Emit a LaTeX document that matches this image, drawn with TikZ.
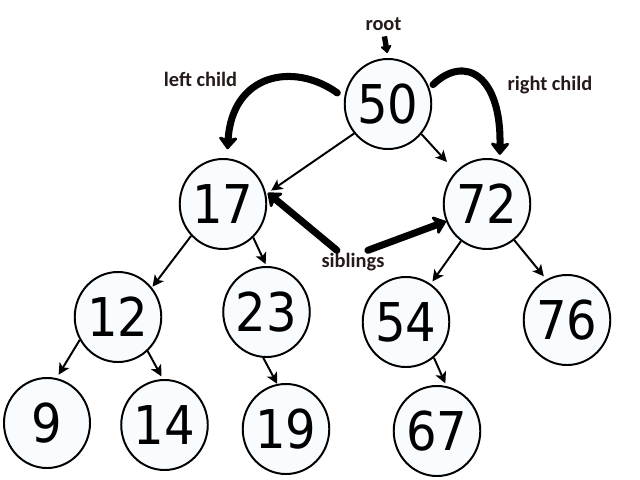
\documentclass[tikz,border=0pt]{standalone}
\usepackage{fontspec}
\setmainfont{Carlito}
\newfontfamily\numfont{DejaVu Sans}[FakeStretch=0.9]
\usetikzlibrary{arrows.meta,shapes.geometric}
\definecolor{keyfill}{RGB}{248,252,255}
\definecolor{labelink}{RGB}{38,26,26}
\begin{document}
\begin{tikzpicture}[x=0.025cm,y=-0.025cm,
  key/.style={ellipse, draw, line width=1.4pt, fill=keyfill,
    minimum width=2.15cm, minimum height=2.25cm, inner sep=0pt,
    font=\numfont\fontsize{38}{38}\selectfont},
  lbl/.style={font=\bfseries\fontsize{14.5}{14.5}\selectfont, text=labelink, inner sep=0pt},
  treelink/.style={line width=1.4pt, -{Stealth[length=8pt,width=8pt,inset=2pt]}},
  pointer/.style={line width=5pt, line cap=round,
    -{Stealth[length=10pt,width=16pt,inset=2.5pt,round]}},
  rootptr/.style={line width=3.8pt,
    -{Stealth[length=6pt,width=9pt,inset=1pt,round]}}]
\useasboundingbox (0,0) rectangle (640,480);

% keys of the tree
\node[key] (n50) at (388,104) {50};
\node[key] (n17) at (223,204) {17};
\node[key] (n72) at (487,204) {72};
\node[key] (n12) at (118,317) {12};
\node[key] (n23) at (266.5,312) {23};
\node[key] (n54) at (406,322) {54};
\node[key] (n76) at (567,320) {76};
\node[key] (n9)  at (47,423) {9};
\node[key] (n14) at (164.5,425) {14};
\node[key] (n19) at (286,429) {19};
\node[key] (n67) at (437,431) {67};

% parent-to-child links
\draw[treelink, shorten >=4.3pt] (n50.221) -- (n17.13);
\draw[treelink, shorten >=9.2pt] (n50.318) -- (n72.134);
\draw[treelink, shorten >=0.7pt] (n17.225) -- (n12.41);
\draw[treelink, shorten >=1.4pt] (n17.312) -- (n23.90);
\draw[treelink, shorten >=2.1pt] (n72.235) -- (n54.57);
\draw[treelink, shorten >=2.8pt] (n72.307) -- (n76.117);
\draw[treelink, shorten >=2.8pt] (n12.211) -- (n9.78);
\draw[treelink, shorten >=2.1pt] (n12.311) -- (n14.92);
\draw[treelink] (n23.266) -- (n19.101);
\draw[treelink, shorten >=2.1pt] (n54.308) -- (n67.78);

% annotations
\node[lbl, anchor=base] (rootlbl)  at (383.5,30) {root};
\node[lbl, anchor=base] (leftlbl)  at (200.5,87) {left child};
\node[lbl, anchor=base] (rightlbl) at (550,91) {right child};
\node[lbl, anchor=base, inner sep=1.5pt] (siblbl) at (353,267) {siblings};

\draw[rootptr, shorten <=4.3pt, shorten >=3.6pt] (rootlbl.south) -- (n50.north);
\draw[pointer, shorten <=6pt, shorten >=6.4pt]
  (n50.172) .. controls +(-50,-36) and +(5,-85) .. (n17.85);
\draw[pointer, shorten <=3.5pt, shorten >=3.6pt]
  (n50.21) .. controls +(35,-34) and +(2,-85) .. (n72.74);
\draw[pointer, shorten >=2.1pt] (siblbl.145) -- (n17.17);
\draw[pointer] (siblbl.37) -- (n72.203);
\end{tikzpicture}
\end{document}
